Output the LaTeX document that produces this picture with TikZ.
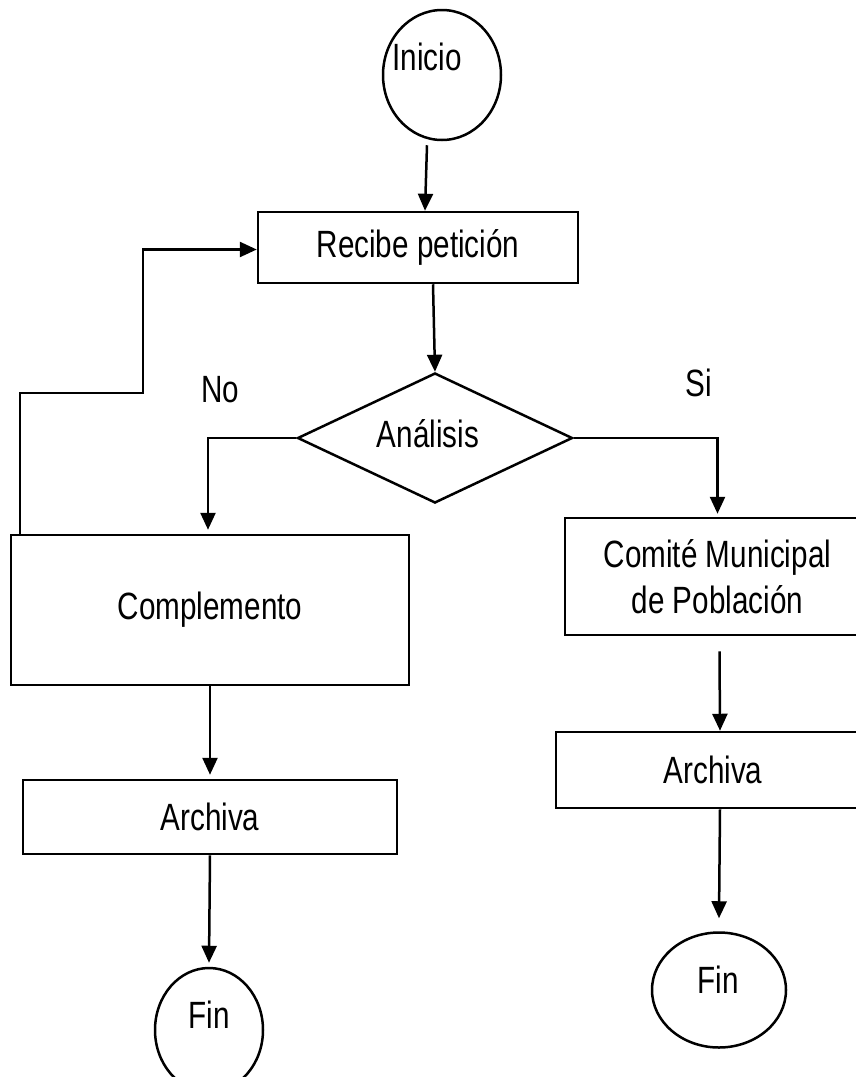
\documentclass[tikz,border=0pt]{standalone}
\usepackage{fontspec}
\setmainfont[FakeStretch=0.78]{Liberation Sans}
\usetikzlibrary{shapes.geometric,arrows.meta}
\begin{document}
\begin{tikzpicture}[x=1pt,y=-1pt,
  every node/.style={font=\fontsize{38}{46}\selectfont, inner sep=0pt},
  box/.style={draw, line width=2.5pt, rectangle, align=center},
  oval/.style={draw, line width=2.5pt, ellipse},
  decision/.style={draw, line width=2.5pt, diamond},
  arr/.style={line width=2.5pt, -{Triangle[width=15pt,length=17pt]}},
  lnk/.style={line width=2.5pt}]
\useasboundingbox (0,0) rectangle (856,1077);
\clip (0,0) rectangle (856,1077);
\fill[white] (0,0) rectangle (856,1077);

\node[oval, minimum width=118pt, minimum height=130pt] (inicio) at (442,75) {};
\node (tinicio) at (427,57) {Inicio};
\node[box, minimum width=320pt, minimum height=71pt] (recibe) at (418,247.5) {Recibe petición};
\node[decision, minimum width=275pt, minimum height=130pt] (analisis) at (435,438) {};
\node (tanalisis) at (428,434) {Análisis};
\node[box, minimum width=398pt, minimum height=150pt] (comp) at (210,610) {Complemento};
\node[box, minimum width=305pt, minimum height=117pt] (comite) at (717.5,576.5) {Comité Municipal\\de Población};
\node[box, minimum width=314pt, minimum height=76pt] (archR) at (713,770) {Archiva};
\node[box, minimum width=374pt, minimum height=74pt] (archL) at (210,817) {Archiva};
\node[oval, minimum width=108pt, minimum height=124pt] (finL) at (209,1030) {};
\node (tfinL) at (209,1015) {Fin};
\node[oval, minimum width=134pt, minimum height=115pt] (finR) at (719,990) {};
\node (tfinR) at (718,980) {Fin};
\node (no) at (220,390) {No};
\node (si) at (699,383) {Si};

\coordinate (fb1) at (143,393);

\draw[arr] ([shift={(-15,4)}]inicio.south) -- ([shift={(7,0)}]recibe.north);
\draw[arr] ([shift={(15,0)}]recibe.south) -- (analisis.north);
\draw[arr] (analisis.west) -| ([shift={(-2,-4)}]comp.north);
\draw[arr] (analisis.east) -| ([shift={(0,-3)}]comite.north);
\draw[arr] ([shift={(2,15)}]comite.south) -- ([shift={(7,0)}]archR.north);
\draw[arr] ([shift={(7,0)}]archR.south) -- ([shift={(0,-13)}]finR.north);
\draw[arr] (comp.south) -- ([shift={(0,-4)}]archL.north);
\draw[arr] (archL.south) -- ([shift={(0,-4)}]finL.north);
\draw[arr] ([shift={(10,0)}]comp.north west) |- (fb1) |- ([shift={(0,2)}]recibe.west);
\end{tikzpicture}
\end{document}
